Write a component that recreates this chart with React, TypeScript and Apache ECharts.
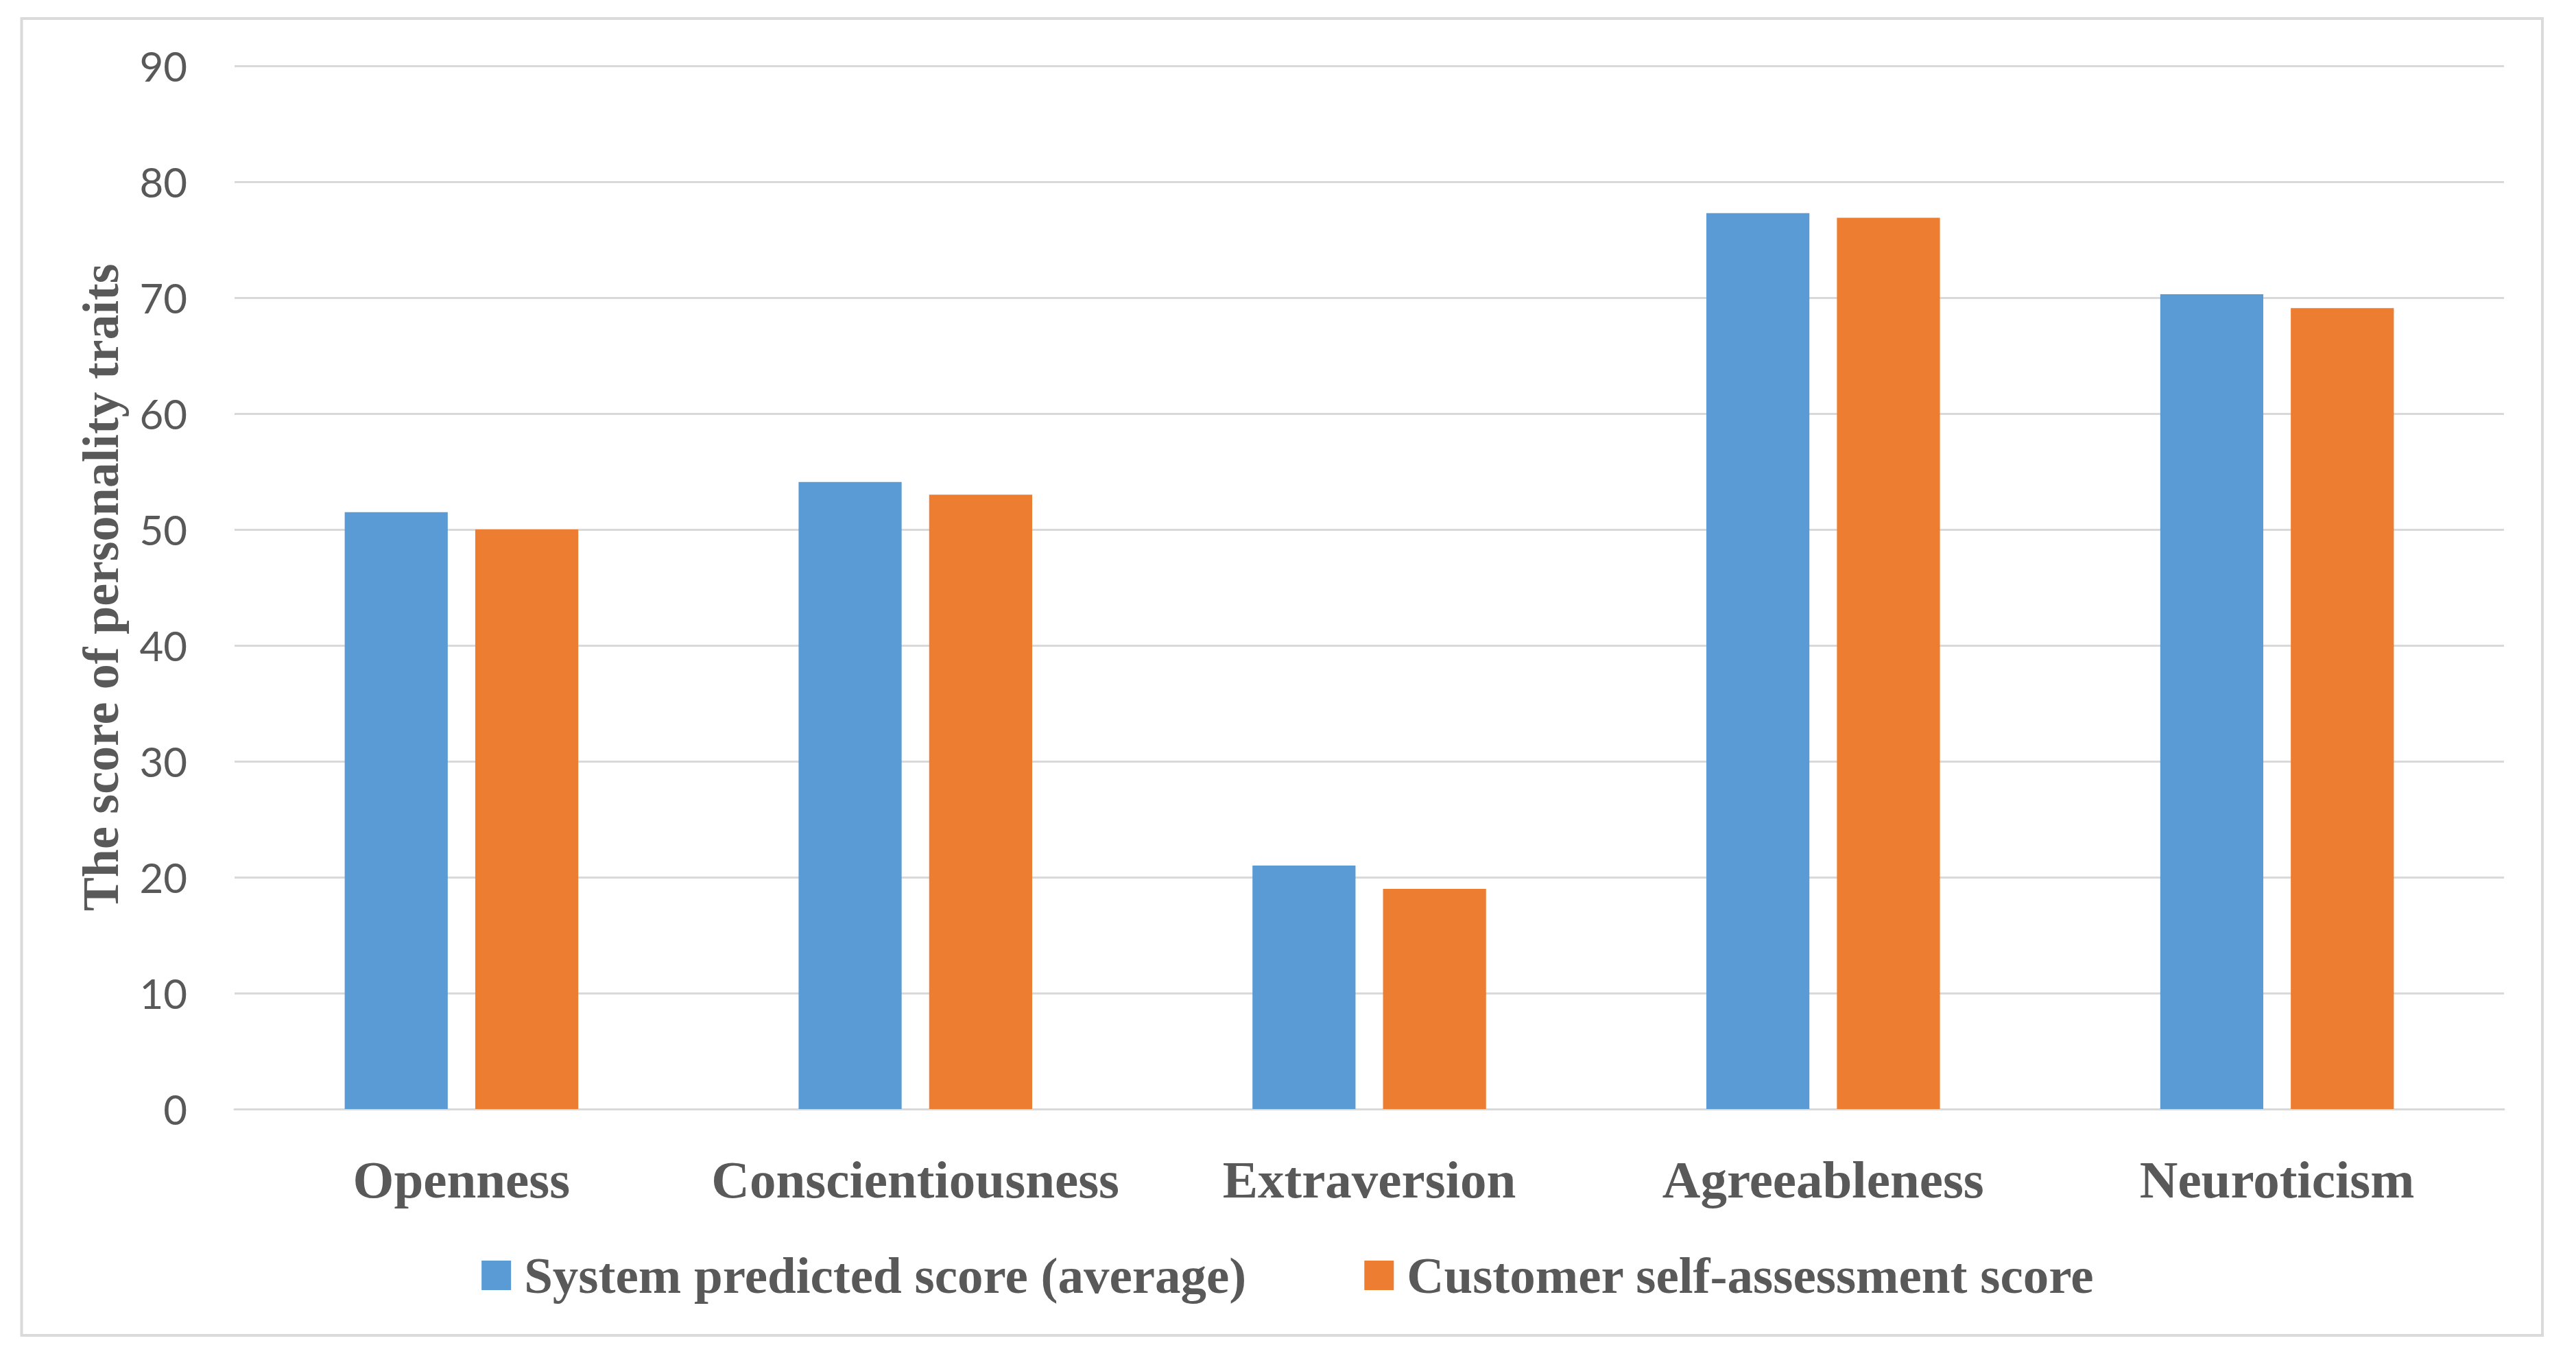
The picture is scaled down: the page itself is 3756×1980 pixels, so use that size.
import React, { useEffect, useRef } from "react";
import * as echarts from "echarts";

const categories = ["Openness", "Conscientiousness", "Extraversion", "Agreeableness", "Neuroticism"];
const systemPredicted = [51.5, 54.1, 21.0, 77.3, 70.3];
const selfAssessment = [50.0, 53.0, 19.0, 76.9, 69.1];
const seriesNames = ["System predicted score (average)", "Customer self-assessment score"];
const yAxisTitle = "The score of personality traits";
const yMin = 0;
const yMax = 90;
const yStep = 10;

const W = 3756;
const H = 1980;
const SERIF = "'Liberation Serif', 'DejaVu Serif', serif";
const SANS = "Lato, 'Open Sans', sans-serif";
const TEXT = "#595959";
const GRID = "#d9d9d9";

export default function App() {
  const ref = useRef<HTMLDivElement>(null);
  useEffect(() => {
    if (!ref.current) return;
    const chart = echarts.init(ref.current, undefined, { renderer: "svg" });
    chart.setOption({
      animation: false,
      backgroundColor: "#ffffff",
      graphic: [
        {
          type: "rect",
          shape: { x: 31.5, y: 27, width: 3675.5, height: 1920 },
          style: { fill: "none", stroke: "#dadada", lineWidth: 4 },
          silent: true,
          z: 0,
        },
      ],
      grid: { left: 342, right: W - 3651, top: 96, bottom: H - 1617, containLabel: false },
      legend: {
        data: seriesNames,
        left: "center",
        top: 1817,
        icon: "rect",
        itemWidth: 43,
        itemHeight: 43,
        itemGap: 172,
        textStyle: {
          fontFamily: SERIF,
          fontWeight: "bold",
          fontSize: 75,
          lineHeight: 75,
          color: TEXT,
          padding: [0, 0, 0, 14],
        },
      },
      xAxis: {
        type: "category",
        data: categories,
        axisTick: { show: false },
        axisLine: { show: true, lineStyle: { color: GRID, width: 3 } },
        axisLabel: {
          fontFamily: SERIF,
          fontWeight: "bold",
          fontSize: 77,
          lineHeight: 77,
          color: TEXT,
          margin: 64,
          interval: 0,
        },
      },
      yAxis: {
        type: "value",
        min: yMin,
        max: yMax,
        interval: yStep,
        name: yAxisTitle,
        nameLocation: "middle",
        nameRotate: 90,
        nameGap: 158,
        nameTextStyle: {
          fontFamily: SERIF,
          fontWeight: "bold",
          fontSize: 74,
          lineHeight: 74,
          color: TEXT,
        },
        axisLine: { show: false },
        axisTick: { show: false },
        splitLine: { show: true, lineStyle: { color: GRID, width: 3 } },
        axisLabel: {
          fontFamily: SANS,
          fontSize: 60,
          color: TEXT,
          margin: 69,
        },
      },
      series: [
        {
          name: seriesNames[0],
          type: "bar",
          data: systemPredicted,
          barWidth: "22.7%",
          barGap: "26.7%",
          itemStyle: { color: "#5b9bd5" },
        },
        {
          name: seriesNames[1],
          type: "bar",
          data: selfAssessment,
          barWidth: "22.7%",
          barGap: "26.7%",
          itemStyle: { color: "#ed7d31" },
        },
      ],
    });
    return () => chart.dispose();
  }, []);
  return (
    <div
      ref={ref}
      style={{ position: "absolute", left: 0, top: 0, width: W, height: H, background: "#fff" }}
    />
  );
}
